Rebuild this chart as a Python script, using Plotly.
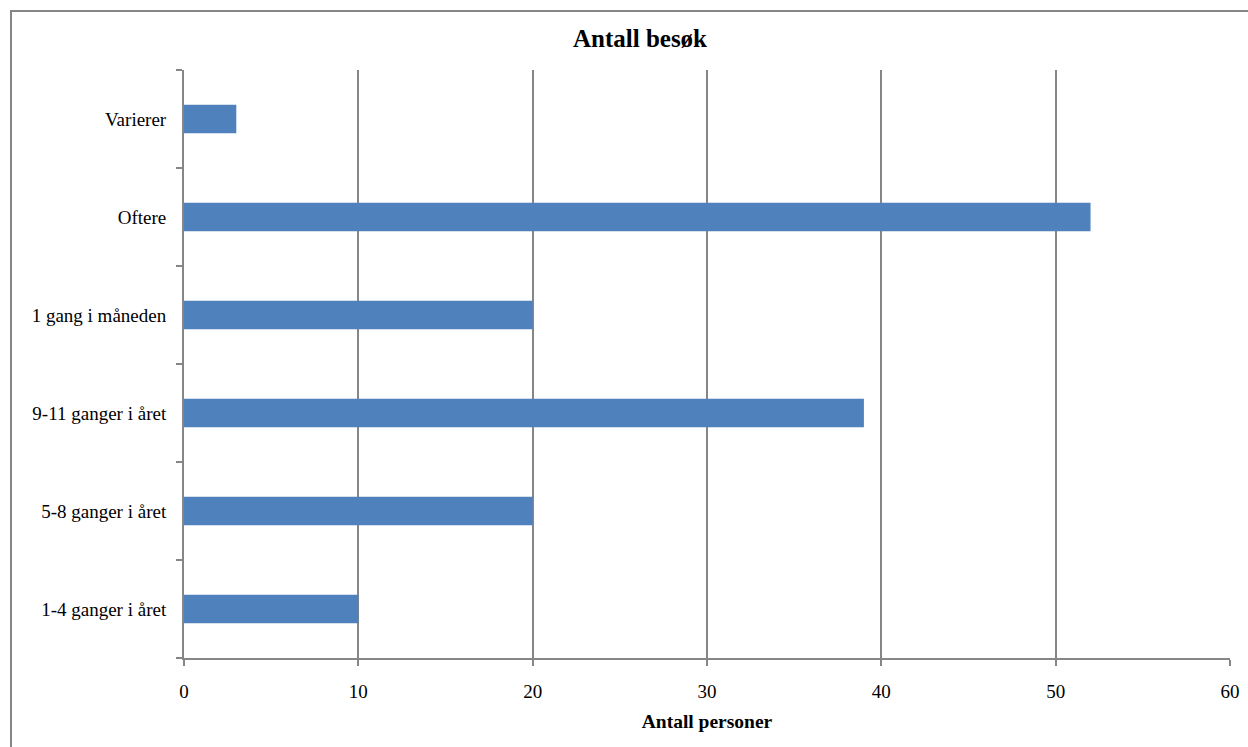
import plotly.graph_objects as go

categories = ["1-4 ganger i året", "5-8 ganger i året", "9-11 ganger i året",
              "1 gang i måneden", "Oftere", "Varierer"]
values = [10, 20, 39, 20, 52, 3]
x_ticks = [0, 10, 20, 30, 40, 50, 60]

W, H = 1248, 747
ML, MR, MT, MB = 184, 18, 70, 89
PW, PH = W - ML - MR, H - MT - MB

FONT = "Liberation Serif, Times New Roman, serif"
GRID = "#868686"

fig = go.Figure(go.Bar(
    y=categories, x=values, orientation="h",
    marker=dict(color="#4F81BD", line=dict(width=0)),
))

fig.update_layout(
    width=W, height=H,
    margin=dict(l=ML, r=MR, t=MT, b=MB, autoexpand=False),
    paper_bgcolor="white", plot_bgcolor="white",
    bargap=0.71,
    showlegend=False,
    font=dict(family=FONT, size=19, color="black"),
    title=dict(text="<b>Antall besøk</b>", x=640 / W, xanchor="center",
               y=1 - 38 / H, yanchor="middle",
               font=dict(family=FONT, size=25, color="black")),
    xaxis=dict(
        range=[0, 60], tickvals=x_ticks, ticktext=[str(v) for v in x_ticks],
        automargin=False,
        showgrid=True, gridcolor=GRID, gridwidth=2,
        showline=True, linecolor=GRID, linewidth=2,
        ticks="outside", ticklen=6, tickwidth=2, tickcolor=GRID,
        ticklabelstandoff=9,
        zeroline=False,
        title=dict(text="<b>Antall personer</b>", standoff=14,
                   font=dict(family=FONT, size=19.5, color="black")),
        tickfont=dict(family=FONT, size=19, color="black"),
    ),
    yaxis=dict(
        type="category", categoryorder="array", categoryarray=categories,
        automargin=False,
        showgrid=False,
        showline=True, linecolor=GRID, linewidth=2,
        ticks="outside", ticklen=6, tickwidth=2, tickcolor=GRID,
        tickson="boundaries",
        ticklabelstandoff=12,
        tickfont=dict(family=FONT, size=19, color="black"),
    ),
)

# outer chart frame: only its top and left edges fall inside the picture
fig.add_shape(type="rect", xref="paper", yref="paper",
              x0=(11 - ML) / PW, x1=(1270 - ML) / PW,
              y0=-(770 - (MT + PH)) / PH, y1=1 + (MT - 11) / PH,
              line=dict(color=GRID, width=2), fillcolor="rgba(0,0,0,0)",
              layer="below")

fig.write_html("out.html",
               config={"displayModeBar": False},
               post_script="document.body.style.margin='0';"
                           "document.body.style.overflow='hidden';")
